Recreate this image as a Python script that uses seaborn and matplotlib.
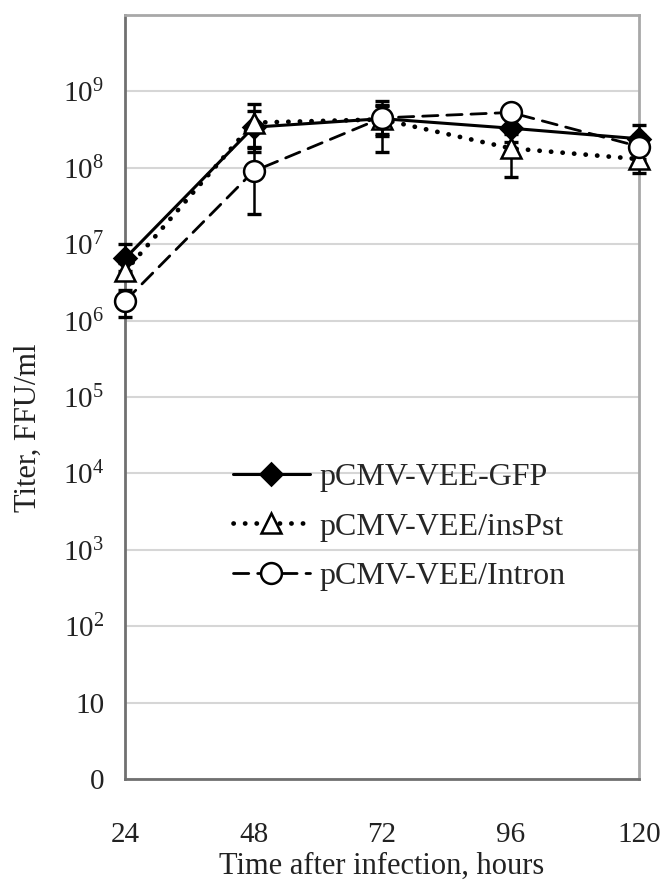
import numpy as np
import pandas as pd
import matplotlib
matplotlib.use("Agg")
import matplotlib.pyplot as plt
import seaborn as sns

# --- data ---
hours = [24, 48, 72, 96, 120]
series_names = ["pCMV-VEE-GFP", "pCMV-VEE/insPst", "pCMV-VEE/Intron"]

gfp = [6.5e6, 3.4e8, 4.4e8, 3.3e8, 2.4e8]
gfp_lo = [4.5e6, 1.6e8, 1.6e8, 2.2e8, 1.7e8]
gfp_hi = [1.0e7, 6.9e8, 7.6e8, 4.6e8, 3.6e8]

inspst = [4.4e6, 3.9e8, 4.3e8, 1.8e8, 1.3e8]
inspst_lo = [3.5e6, 1.9e8, 2.6e8, 7.6e7, 8.5e7]
inspst_hi = [5.6e6, 5.6e8, 6.4e8, 2.8e8, 2.0e8]

intron = [1.8e6, 9.0e7, 4.5e8, 5.3e8, 1.9e8]
intron_lo = [1.1e6, 2.5e7, 2.8e8, 4.2e8, 1.3e8]
intron_hi = [2.5e6, 1.8e8, 6.6e8, 6.3e8, 2.7e8]

ytick_vals = [1, 10, 1e2, 1e3, 1e4, 1e5, 1e6, 1e7, 1e8, 1e9]
ytick_labels = ["0", "10", "$10^2$", "$10^3$", "$10^4$", "$10^5$",
                "$10^6$", "$10^7$", "$10^8$", "$10^9$"]

df = pd.DataFrame({
    "hours": hours * 3,
    "titer": gfp + inspst + intron,
    "series": np.repeat(series_names, len(hours)),
})

sns.set_style("white")
plt.rcParams["font.family"] = ["Liberation Serif", "DejaVu Serif"]
plt.rcParams["mathtext.fontset"] = "custom"
plt.rcParams["mathtext.rm"] = "Liberation Serif"
plt.rcParams["mathtext.it"] = "Liberation Serif"

fig = plt.figure(figsize=(6.65, 8.85), dpi=100)
ax = fig.add_axes([125 / 665, 106 / 885, 514 / 665, 764 / 885])

styles = {
    "pCMV-VEE-GFP": dict(ls="-", marker="D", mfc="black", lw=2.2, ms=11),
    "pCMV-VEE/insPst": dict(ls=(0, (0.05, 2.4)), marker="^", mfc="white", lw=3.4, ms=14),
    "pCMV-VEE/Intron": dict(ls=(0, (5.5, 3.2)), marker="o", mfc="white", lw=2.0, ms=15),
}
bars = {
    "pCMV-VEE-GFP": (gfp_lo, gfp_hi),
    "pCMV-VEE/insPst": (inspst_lo, inspst_hi),
    "pCMV-VEE/Intron": (intron_lo, intron_hi),
}

for name in series_names:
    sub = df[df["series"] == name]
    st = styles[name]
    lo, hi = bars[name]
    vals = sub["titer"].values
    ax.errorbar(sub["hours"], vals,
                yerr=[vals - np.array(lo), np.array(hi) - vals],
                fmt="none", ecolor="black", elinewidth=1.8, capsize=5,
                capthick=2.4, zorder=3, clip_on=False)
    sns.lineplot(data=sub, x="hours", y="titer", ax=ax, color="black",
                 linestyle=st["ls"], linewidth=st["lw"], marker=st["marker"],
                 markersize=st["ms"], markerfacecolor=st["mfc"],
                 markeredgecolor="black", markeredgewidth=1.8,
                 dash_capstyle="round", label=name, zorder=4, clip_on=False)

ax.set_yscale("log")
ax.set_ylim(1, 1e10)
ax.set_xlim(24, 120)
ax.set_yticks(ytick_vals)
ax.set_yticklabels(ytick_labels)
ax.minorticks_off()
ax.set_xticks(hours)
ax.yaxis.grid(True, color="#d6d6d6", lw=1.5)
ax.xaxis.grid(False)
ax.set_axisbelow(True)

for side in ["top", "right"]:
    ax.spines[side].set_color("#a8a8a8")
    ax.spines[side].set_linewidth(2)
for side in ["left", "bottom"]:
    ax.spines[side].set_color("#707070")
    ax.spines[side].set_linewidth(2)

ax.tick_params(axis="y", direction="out", length=7, width=1.5, colors="#707070",
               labelcolor="#222222", labelsize=21, pad=8)
ax.tick_params(axis="x", direction="out", length=7, width=1.5, colors="#707070",
               labelcolor="#222222", labelsize=21, pad=24)

ax.set_xlabel("Time after infection, hours", fontsize=22, color="#222222", labelpad=3)
ax.set_ylabel("Titer, FFU/ml", fontsize=22, color="#222222")
ax.yaxis.set_label_coords(-82 / 514, 0.46)

leg = ax.legend(loc="center left", bbox_to_anchor=(0.185, 0.33), frameon=False,
                fontsize=23, handlelength=2.4, handletextpad=0.3, labelspacing=0.62,
                borderaxespad=0)

fig.savefig("out.png", dpi=100)
